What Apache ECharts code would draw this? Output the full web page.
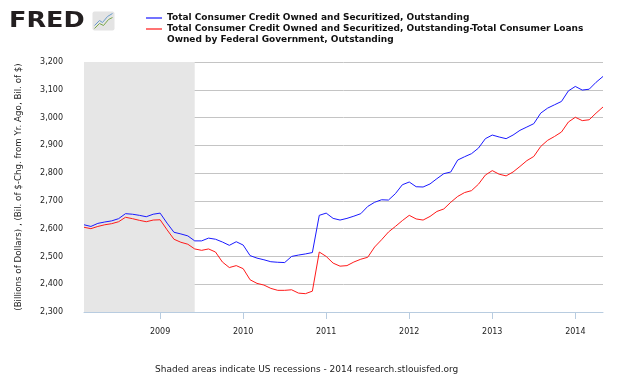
<!DOCTYPE html>
<html>
<head>
<meta charset="utf-8">
<script src="https://cdn.jsdelivr.net/npm/echarts@6/dist/echarts.min.js"></script>
<style>html,body{margin:0;padding:0;background:#fff}#c{width:630px;height:378px}</style>
</head>
<body>
<div id="c"></div>
<script>
// Monthly categories, Feb 2008 .. May 2014
const startYear = 2008, startMonth = 2, monthCount = 76;
const months = [];
for (let i = 0; i < monthCount; i++) {
  const t = (startMonth - 1) + i;
  const y = startYear + Math.floor(t / 12), m = (t % 12) + 1;
  months.push(y + '-' + (m < 10 ? '0' + m : m));
}
const seriesNames = [
  'Total Consumer Credit Owned and Securitized, Outstanding',
  'Total Consumer Credit Owned and Securitized, Outstanding-Total Consumer Loans Owned by Federal Government, Outstanding'
];
const totalCredit = [2614,2608,2619,2624,2628,2636,2654,2652,2648,2643,2652,2656,2620,2587,2581,2574,2556,2556,2566,2562,2552,2540,2553,2541,2503,2494,2488,2481,2479,2478,2500,2505,2509,2514,2648,2656,2637,2631,2637,2645,2654,2680,2695,2704,2703,2726,2758,2768,2751,2750,2761,2780,2798,2804,2847,2859,2870,2890,2924,2937,2930,2924,2937,2954,2966,2978,3016,3034,3046,3058,3096,3112,3099,3102,3127,3148];
const creditExFed = [2605,2600,2608,2614,2618,2625,2641,2636,2630,2625,2631,2632,2596,2562,2551,2544,2527,2522,2527,2516,2480,2460,2467,2456,2416,2403,2397,2385,2378,2378,2380,2368,2366,2375,2516,2500,2476,2465,2467,2480,2490,2497,2534,2560,2588,2608,2629,2648,2635,2631,2644,2662,2671,2695,2716,2730,2737,2760,2793,2809,2796,2790,2804,2824,2845,2860,2896,2918,2932,2948,2984,3001,2989,2992,3016,3038];
const recession = ['2008-02', '2009-06'];
const yTicks = {min: 2300, max: 3200, interval: 100};

const FONT = '"DejaVu Sans", Verdana, sans-serif';
const chart = echarts.init(document.getElementById('c'), null, {renderer: 'canvas'});
const legendText = {fontFamily: FONT, fontSize: 9, fontWeight: 'bold', color: '#111', lineHeight: 11};
chart.setOption({
  animation: false,
  backgroundColor: '#fff',
  grid: {left: 84, right: 27, top: 62, bottom: 66},
  legend: [
    {data: [{name: seriesNames[0], itemStyle: {color: '#7373ff'}}], orient: 'vertical', left: 146, top: 12.5, padding: 0,
     icon: 'rect', itemWidth: 16, itemHeight: 2, itemGap: 0, textStyle: legendText, selectedMode: false},
    {data: [{name: seriesNames[1], itemStyle: {color: '#ff7373'}}], orient: 'vertical', left: 146, top: 12.5, padding: 0,
     icon: 'rect', itemWidth: 16, itemHeight: 2, itemGap: 0, textStyle: legendText, selectedMode: false,
     formatter: function (n) { return '\nTotal Consumer Credit Owned and Securitized, Outstanding-Total Consumer Loans\nOwned by Federal Government, Outstanding'; }}
  ],
  xAxis: {
    type: 'category', data: months, boundaryGap: false,
    axisLine: {lineStyle: {color: '#b8cce0', width: 1}},
    axisTick: {show: true, length: 7, lineStyle: {color: '#b8cce0'}, interval: function (i, v) { return v.slice(5) === '01'; }},
    axisLabel: {interval: function (i, v) { return v.slice(5) === '01'; }, formatter: function (v) { return v.slice(0, 4); },
      fontFamily: FONT, fontSize: 8, color: '#222', margin: 16},
    splitLine: {show: false}
  },
  yAxis: {
    type: 'value', min: yTicks.min, max: yTicks.max, interval: yTicks.interval,
    name: '(Billions of Dollars) , (Bil. of $-Chg. from Yr. Ago, Bil. of $)',
    nameLocation: 'middle', nameGap: 61, nameRotate: 90,
    nameTextStyle: {fontFamily: FONT, fontSize: 8.7, color: '#222'},
    axisLine: {show: false}, axisTick: {show: false},
    axisLabel: {fontFamily: FONT, fontSize: 8, color: '#222', margin: 21,
      formatter: function (v) { return v.toLocaleString('en-US'); }},
    splitLine: {lineStyle: {color: '#c4c4c4', width: 1}}
  },
  series: [
    {name: seriesNames[0], type: 'line', data: totalCredit, symbol: 'none', z: 3,
     lineStyle: {color: '#1a1aff', width: 1}, itemStyle: {color: '#1a1aff'},
     markArea: {silent: true, itemStyle: {color: '#e6e6e6'}, data: [[{xAxis: recession[0]}, {xAxis: recession[1]}]]}},
    {name: seriesNames[1], type: 'line', data: creditExFed, symbol: 'none', z: 4,
     lineStyle: {color: '#ff1a1a', width: 1}, itemStyle: {color: '#ff1a1a'}}
  ],
  graphic: [
    {type: 'text', left: 9, top: 10, style: {text: 'FRED', fontFamily: '"DejaVu Sans", sans-serif', fontWeight: 'bold', fontSize: 22, fill: '#231f20'}, scaleX: 1.16},
    {type: 'group', left: 92, top: 11, children: [
      {type: 'rect', shape: {x: 0, y: 0, width: 22, height: 19, r: 2}, style: {fill: '#e4e4e4'}},
      {type: 'polyline', shape: {points: [[2,14],[7,9],[10,11],[15,5],[20,2]]}, style: {stroke: '#6a9ccc', lineWidth: 1, fill: null}},
      {type: 'polyline', shape: {points: [[2,17],[7,12],[11,14],[16,8],[20,6]]}, style: {stroke: '#7aa84a', lineWidth: 1, fill: null}}
    ]},
    {type: 'text', left: 155, top: 365, style: {text: 'Shaded areas indicate US recessions - 2014 research.stlouisfed.org', fontFamily: FONT, fontSize: 9, fill: '#222'}}
  ]
});
</script>
</body>
</html>
